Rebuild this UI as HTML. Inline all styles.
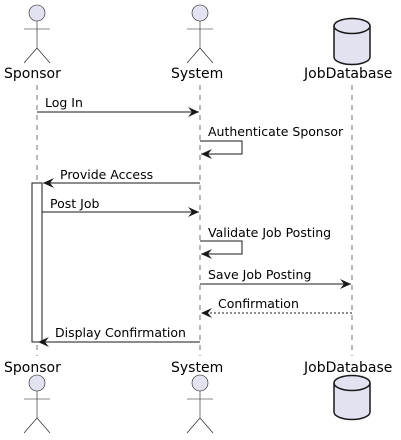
<!DOCTYPE html>
<html><head><style>html,body{margin:0;padding:0;background:#fff}svg{display:block}</style></head><body>
<svg width="401" height="440" xmlns="http://www.w3.org/2000/svg" font-family="DejaVu Sans, Liberation Sans, sans-serif">
<defs>
<marker id="a" markerWidth="12" markerHeight="10" refX="11" refY="5" orient="auto" markerUnits="userSpaceOnUse">
<path d="M0,0 L11,5 L0,10 L4,5 Z" fill="#181818"/>
</marker>
</defs>
<g stroke="#181818" stroke-width="0.6" stroke-dasharray="5,5">
<line x1="37" y1="85" x2="37" y2="356"/>
<line x1="200" y1="85" x2="200" y2="356"/>
<line x1="352" y1="85" x2="352" y2="356"/>
</g>
<rect x="32" y="183" width="10" height="159" fill="#fff" stroke="#181818" stroke-width="1"/>
<g fill="#E2E2F0" stroke="#181818" stroke-width="0.6">
<g id="act">
<circle cx="37" cy="13" r="8"/>
<line x1="37" y1="21" x2="37" y2="48"/>
<line x1="24" y1="29" x2="50" y2="29"/>
<line x1="37" y1="48" x2="24" y2="63"/>
<line x1="37" y1="48" x2="50" y2="63"/>
</g>
<use href="#act" x="163"/>
<use href="#act" y="370"/>
<use href="#act" x="163" y="370"/>
</g>
<g fill="#E2E2F0" stroke="#181818" stroke-width="1.5">
<path d="M334,26 A18,7.5 0 0 1 370,26 L370,57 A18,7.5 0 0 1 334,57 Z"/>
<path d="M334,26 A18,7.5 0 0 0 370,26"/>
<path d="M334,383 A18,7.5 0 0 1 370,383 L370,412 A18,7.5 0 0 1 334,412 Z"/>
<path d="M334,383 A18,7.5 0 0 0 370,383"/>
</g>
<g font-size="14" fill="#000">
<text x="4" y="78">Sponsor</text>
<text x="171" y="78">System</text>
<text x="304" y="78">JobDatabase</text>
<text x="4" y="372">Sponsor</text>
<text x="171" y="372">System</text>
<text x="304" y="372">JobDatabase</text>
</g>
<g stroke="#181818" stroke-width="1" fill="none" marker-end="url(#a)">
<line x1="37" y1="112" x2="199" y2="112"/>
<polyline points="200,141 242,141 242,154 201,154"/>
<line x1="200" y1="183" x2="43" y2="183"/>
<line x1="42" y1="212" x2="199" y2="212"/>
<polyline points="200,241 242,241 242,254 201,254"/>
<line x1="200" y1="284" x2="351" y2="284"/>
<line x1="352" y1="313" x2="201" y2="313" stroke-dasharray="2,2"/>
<line x1="200" y1="342" x2="38" y2="342"/>
</g>
<g font-size="12.5" fill="#000">
<text x="45" y="107">Log In</text>
<text x="208" y="136">Authenticate Sponsor</text>
<text x="60" y="179">Provide Access</text>
<text x="50" y="208">Post Job</text>
<text x="208" y="237">Validate Job Posting</text>
<text x="208" y="279">Save Job Posting</text>
<text x="218" y="308">Confirmation</text>
<text x="55" y="337">Display Confirmation</text>
</g>
</svg>
</body></html>
